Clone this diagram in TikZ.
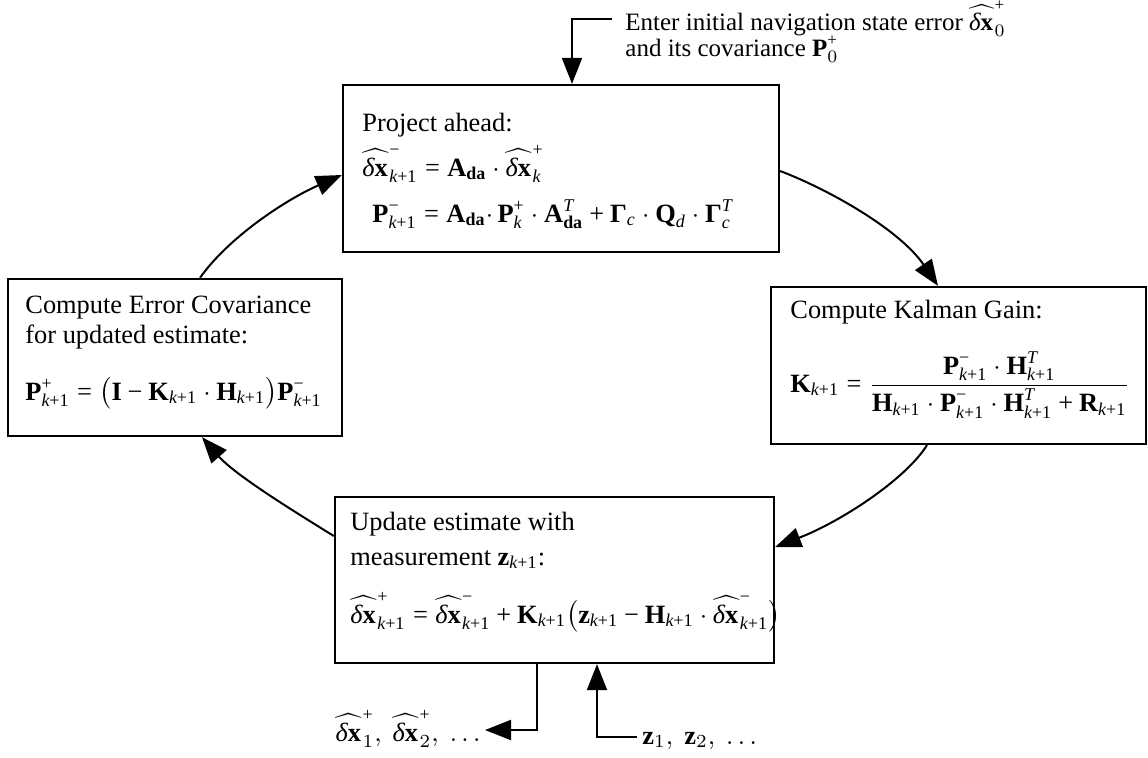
\documentclass[tikz,border=0pt]{standalone}
\usepackage{amsmath}
\usepackage{graphicx}
\usepackage{fontspec}
\setmainfont{Liberation Serif}
\usetikzlibrary{arrows.meta,calc}
\DeclareMathSizes{10}{10}{6.8}{5}

% bold upright symbols taken from the text face
\newcommand{\bv}[1]{\textbf{#1}}
% italic indices and signs from the text face
\newcommand{\iv}[1]{\textit{#1}}
\newcommand{\kk}{\textit{k}\textup{+1}}
\newcommand{\up}{\textup{+}}
\newcommand{\dn}{\textup{−}}
\newcommand{\eq}{\mathrel{\textup{=}}}
\newcommand{\pls}{\mathbin{\textup{+}}}
\newcommand{\mns}{\mathbin{\textup{−}}}
% estimated error-state vector with a wide hat
\newcommand{\dxh}{\widehat{\textit{δ}\bv{x}\mkern1mu}}
% labels are set at 10pt and enlarged uniformly
\newcommand{\lbl}[1]{\scalebox{1.32}{#1}}
\newcommand{\lbs}[1]{\scalebox{1.25}{#1}}

\tikzset{
  stage/.style={draw, line width=1.15pt, rectangle, inner sep=0pt},
  txt/.style={anchor=base west, inner sep=0pt},
  flow/.style={line width=1pt, -{Triangle[length=13pt,width=10pt]}},
}

\begin{document}
\begin{tikzpicture}[x=0.5pt,y=-0.5pt]
\useasboundingbox (0,0) rectangle (1148,757);

% the four stages of the filter loop
\node[stage, minimum width=218pt,   minimum height=83.5pt] (proj) at (561,168.5) {};
\node[stage, minimum width=187.5pt, minimum height=78.5pt] (gain) at (958.5,365.5) {};
\node[stage, minimum width=219.5pt, minimum height=83pt]   (upd)  at (554.5,580) {};
\node[stage, minimum width=167pt,   minimum height=78.5pt] (cov)  at (175,357.5) {};

% projection step
\node[txt] (projT) at (362,131) {\lbl{Project ahead:}};
\node[txt] (projA) at (362,176) {\lbl{$\dxh^{\dn}_{\kk} \eq \bv{A}_{\bv{da}}\cdot\dxh^{\up}_{\iv{k}}$}};
\node[txt] (projB) at (372,222) {\lbl{$\bv{P}^{\dn}_{\kk} \eq \bv{A}_{\bv{da}}{\cdot}\,\bv{P}^{\up}_{\iv{k}}\cdot\bv{A}_{\bv{da}}^{\iv{T}} \pls \bv{Γ}_{\iv{c}}\cdot\bv{Q}_{\iv{d}}\cdot\bv{Γ}^{\iv{T}}_{\iv{c}}$}};

% gain step
\node[txt] (gainT) at (790,318) {\lbl{Compute Kalman Gain:}};
\node[txt] (gainK) at (790,392) {\lbl{$\bv{K}_{\kk} \eq \dfrac{\bv{P}^{\dn}_{\kk}\cdot\bv{H}^{\iv{T}}_{\kk}}{\bv{H}_{\kk}\cdot\bv{P}^{\dn}_{\kk}\cdot\bv{H}^{\iv{T}}_{\kk}\pls\bv{R}_{\kk}}$}};

% update step
\node[txt] (updT1) at (350,530) {\lbl{Update estimate with}};
\node[txt] (updT2) at (350,565) {\lbl{measurement $\bv{z}_{\kk}$:}};
\node[txt] (updF)  at (350,623) {\lbl{$\dxh^{\up}_{\kk} \eq \dxh^{\dn}_{\kk} \pls \bv{K}_{\kk}\bigl(\bv{z}_{\kk} \mns \bv{H}_{\kk}\cdot\dxh^{\dn}_{\kk}\bigr)$}};

% covariance step
\node[txt] (covT1) at (25,313) {\lbl{Compute Error Covariance}};
\node[txt] (covT2) at (25,343) {\lbl{for updated estimate:}};
\node[txt] (covP)  at (25,400) {\lbl{$\bv{P}^{\up}_{\kk} \eq \bigl(\bv{I} \mns \bv{K}_{\kk}\cdot\bv{H}_{\kk}\bigr)\bv{P}^{\dn}_{\kk}$}};

% initial conditions
\node[txt] (enter1) at (625,30) {\lbs{Enter initial navigation state error $\dxh^{\up}_{0}$}};
\node[txt] (enter2) at (625,56) {\lbs{and its covariance $\bv{P}^{\up}_{0}$}};

% outputs and measurements
\node[txt, anchor=base east] (outL) at (481,741) {\lbl{$\dxh^{\up}_{1},\ \dxh^{\up}_{2},\ \ldots$}};
\node[txt] (zin) at (642,744) {\lbl{$\bv{z}_{1},\ \bv{z}_{2},\ \ldots$}};

% helper points for the straight feeds
\coordinate (entryStart) at (612,19);
\coordinate (entryX) at (572,0);
\coordinate (outX) at (537,0);
\coordinate (outTip) at (485,730);
\coordinate (inStart) at (637,737);
\coordinate (inX) at (597,0);

\draw[flow] (entryStart) -| (proj.north -| entryX);
\draw[flow] (upd.south -| outX) |- (outTip);
\draw[flow] (inStart) -| (upd.south -| inX);

% the loop
\draw[flow] ($(cov.north)+(25,0)$) .. controls (228,238) and (285,200) .. ($(proj.west)+(0,6.5)$);
\draw[flow] ($(proj.east)+(0,2.5)$) .. controls (830,190) and (900,230) .. ($(gain.north)+(-20.5,0)$);
\draw[flow] ($(gain.south)+(-31.5,0)$) .. controls (905,480) and (840,522) .. ($(upd.east)+(0,-33)$);
\draw[flow] ($(upd.west)+(0,-44)$) .. controls (295,512) and (235,475) .. ($(cov.south)+(27,0)$);
\end{tikzpicture}
\end{document}
